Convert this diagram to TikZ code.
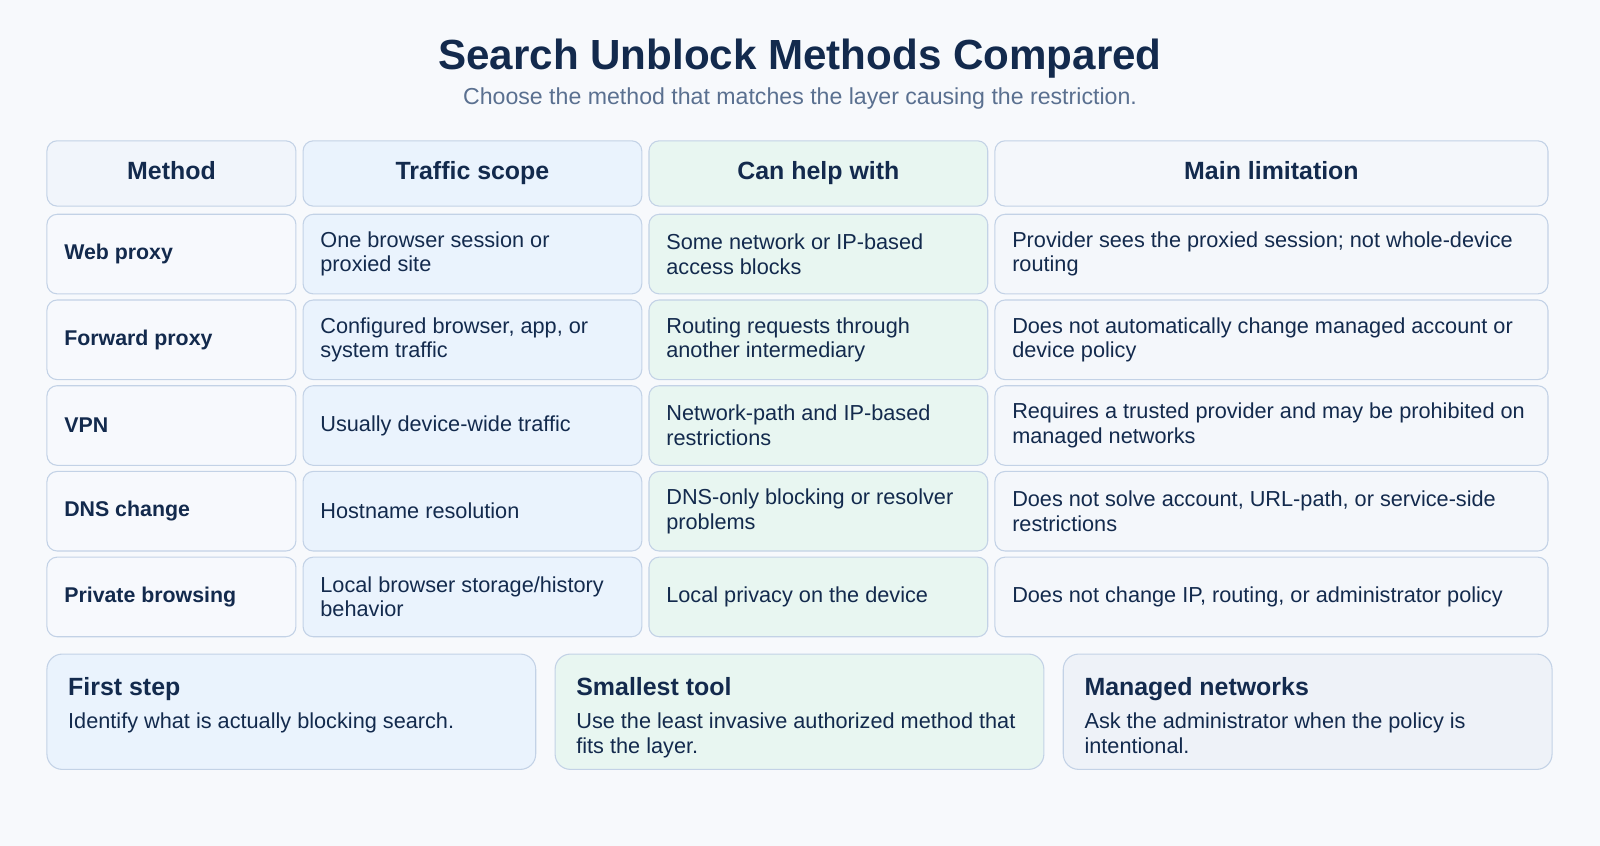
\documentclass[tikz,border=0pt]{standalone}
\usepackage{fontspec}
\setmainfont{Liberation Sans}
\usepackage[none]{hyphenat}
\usepackage{xcolor}
\definecolor{pagebg}{HTML}{F7F9FC}
\definecolor{navy}{HTML}{132A4D}
\definecolor{subgray}{HTML}{5A7090}
\definecolor{edge}{HTML}{C3D2E6}
\definecolor{methodbg}{HTML}{F1F5FB}
\definecolor{scopebg}{HTML}{EAF3FD}
\definecolor{helpbg}{HTML}{E8F6F1}
\definecolor{limitbg}{HTML}{F4F7FB}
\definecolor{adminbg}{HTML}{EEF2F8}

\tikzset{
  cell/.style={draw=edge, line width=0.6pt, rounded corners=0.2cm, inner xsep=0.34cm,
    align=flush left, text=navy, font=\fontsize{12.1}{13.7}\selectfont},
  head/.style={cell, align=center, text height=1.7ex, text depth=0.45ex, font=\fontsize{13.9}{16}\selectfont\bfseries},
  card/.style={draw=edge, line width=0.6pt, rounded corners=0.3cm, minimum width=9.58cm, minimum height=2.26cm},
  cardtitle/.style={anchor=base west, text=navy, inner sep=0pt, font=\fontsize{13.9}{16}\selectfont\bfseries},
  cardtext/.style={anchor=north west, text=navy, inner sep=0pt, align=flush left, text width=8.8cm,
    font=\fontsize{12.1}{13.7}\selectfont}
}

\begin{document}
\begin{tikzpicture}
  \fill[pagebg] (0, 0) rectangle (31.36, -16.58);
  \useasboundingbox (0, 0) rectangle (31.36, -16.58);

  \node[text=navy, font=\fontsize{23.5}{28}\selectfont\bfseries] (title) at (15.68, -1.14) {Search Unblock Methods Compared};
  \node[text=subgray, font=\fontsize{12.9}{15}\selectfont] (subtitle) at (15.68, -1.94) {Choose the method that matches the layer causing the restriction.};

  % header row
  \node[head, fill=methodbg, minimum width=4.88cm, minimum height=1.28cm] (hmethod) at (3.36, -3.40) {Method};
  \node[head, fill=scopebg, minimum width=6.64cm, minimum height=1.28cm] (hscope) at (9.26, -3.40) {Traffic scope};
  \node[head, fill=helpbg, minimum width=6.64cm, minimum height=1.28cm] (hhelp) at (16.04, -3.40) {Can help with};
  \node[head, fill=limitbg, minimum width=10.84cm, minimum height=1.28cm] (hlimit) at (24.92, -3.40) {Main limitation};

  % table rows
  \foreach \y/\m/\s/\h/\l [count=\i] in {
    -4.98/Web proxy/One browser session or proxied site/Some network or IP-based access blocks/{Provider sees the proxied session; not whole-device routing},
    -6.66/Forward proxy/{Configured browser, app, or system traffic}/Routing requests through another intermediary/Does not automatically change managed account or device policy,
    -8.34/VPN/Usually device-wide traffic/Network-path and IP-based restrictions/Requires a trusted provider and may be prohibited on managed networks,
    -10.02/DNS change/Hostname resolution/DNS-only blocking or resolver problems/{Does not solve account, URL-path, or service-side restrictions},
    -11.70/Private browsing/{Local browser storage/history behavior}/Local privacy on the device/{Does not change IP, routing, or administrator policy}} {
    \node[cell, fill=methodbg!60!white, minimum width=4.88cm, minimum height=1.56cm, text width=4.2cm, font=\fontsize{11.9}{13.7}\selectfont\bfseries] (m\i) at (3.36, \y) {\m};
    \node[cell, fill=scopebg, minimum width=6.64cm, minimum height=1.56cm, text width=5.96cm] (s\i) at (9.26, \y) {\s};
    \node[cell, fill=helpbg, minimum width=6.64cm, minimum height=1.56cm, text width=5.96cm] (c\i) at (16.04, \y) {\h};
    \node[cell, fill=limitbg, minimum width=10.84cm, minimum height=1.56cm, text width=10.16cm] (l\i) at (24.92, \y) {\l};
  }

  % summary cards
  \node[card, fill=scopebg] (first) at (5.71, -13.95) {};
  \node[card, fill=helpbg] (tool) at (15.67, -13.95) {};
  \node[card, fill=adminbg] (admin) at (25.63, -13.95) {};
  \foreach \c/\t/\b in {first/First step/Identify what is actually blocking search.,
    tool/Smallest tool/Use the least invasive authorized method that fits the layer.,
    admin/Managed networks/Ask the administrator when the policy is intentional.} {
    \node[cardtitle] (\c-t) at ([xshift=0.42cm, yshift=-0.82cm]\c.north west) {\t};
    \node[cardtext] (\c-b) at ([xshift=0.42cm, yshift=-1.16cm]\c.north west) {\b};
  }
\end{tikzpicture}
\end{document}
